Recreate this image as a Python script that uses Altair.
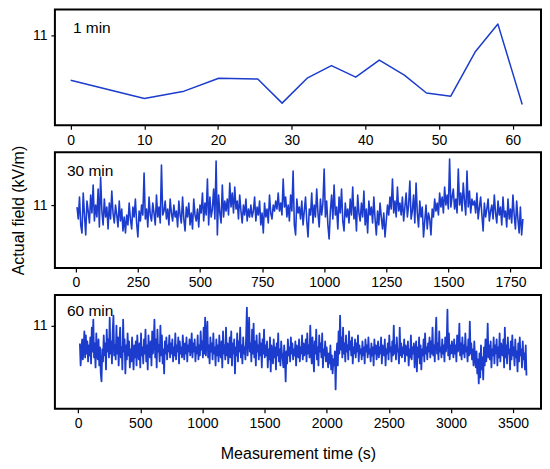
import altair as alt
import pandas as pd

# ---------------- data ----------------
# 1 min record
t1 = [0, 10.0, 15.4, 20.1, 25.4, 28.7, 32.1, 35.4, 38.7, 41.9, 45.3, 48.3, 51.6, 54.9, 58.0, 61.3]
v1 = [10.774, 10.682, 10.719, 10.784, 10.780, 10.659, 10.784, 10.847, 10.789, 10.875,
      10.799, 10.710, 10.694, 10.915, 11.055, 10.652]

# 30 min record (sampled every 5 s, starting at 5 s)
t30_start, t30_step = 5, 5
v30 = [
    10.99, 10.93, 11.04, 10.90, 10.86, 11.06, 10.95, 10.85, 11.02, 10.97, 10.91, 11.05, 10.96, 11.10, 10.92, 11.00, 10.94, 11.08, 10.89, 11.14,
    10.97, 10.90, 11.03, 10.94, 10.99, 10.88, 11.01, 10.93, 11.07, 10.96, 10.91, 11.00, 10.95, 10.89, 11.02, 10.92, 10.98, 10.87, 10.94, 10.86,
    10.95, 10.90, 11.01, 10.93, 10.88, 10.99, 10.94, 11.03, 10.91, 10.84, 10.97, 10.92, 11.00, 10.95, 11.16, 10.93, 10.98, 10.89, 11.04, 10.95,
    10.92, 11.01, 10.96, 10.90, 11.05, 10.94, 10.99, 10.91, 11.20, 10.95, 10.97, 11.02, 10.93, 10.98, 10.90, 11.03, 10.96, 10.92, 11.00, 10.94,
    10.97, 10.89, 11.02, 10.95, 10.91, 11.04, 10.93, 10.87, 10.99, 10.94, 11.01, 10.90, 10.96, 10.88, 11.03, 10.95, 10.92, 10.98, 10.89, 11.00,
    10.96, 11.06, 10.92, 11.01, 10.95, 11.13, 10.90, 11.04, 10.94, 10.98, 11.08, 10.93, 11.22, 10.85, 11.05, 10.96, 10.91, 11.10, 10.94, 11.02,
    10.97, 11.03, 10.95, 11.11, 10.99, 11.06, 10.96, 11.09, 10.98, 11.02, 10.93, 11.05, 10.97, 10.91, 11.00, 10.95, 11.03, 10.92, 10.98, 10.94,
    11.00, 10.94, 10.97, 11.04, 10.92, 10.99, 10.95, 11.02, 10.90, 10.96, 10.86, 11.01, 10.94, 10.98, 10.91, 11.05, 10.96, 10.93, 11.00, 10.97,
    11.02, 10.98, 11.06, 10.97, 11.01, 10.95, 11.13, 10.99, 11.04, 10.94, 11.00, 10.92, 11.05, 10.97, 11.17, 10.90, 10.85, 11.03, 10.96, 10.99,
    10.93, 11.02, 10.90, 10.97, 11.04, 10.92, 10.84, 10.98, 10.95, 11.06, 10.91, 11.00, 10.94, 11.08, 10.96, 10.89, 11.03, 10.95, 11.01, 11.18,
    10.94, 11.02, 10.90, 10.83, 10.97, 11.05, 10.93, 11.10, 10.95, 10.99, 10.88, 11.04, 10.96, 11.08, 10.92, 10.87, 11.01, 10.94, 10.98, 10.91,
    11.03, 10.95, 11.09, 10.93, 10.99, 10.87, 11.05, 10.96, 10.92, 11.01, 10.94, 11.07, 10.90, 10.98, 10.86, 11.02, 10.95, 10.99, 10.91, 11.04,
    10.93, 10.85, 10.97, 10.90, 11.01, 10.94, 10.88, 10.96, 10.84, 10.92, 11.00, 10.95, 11.04, 10.98, 11.13, 10.96, 11.02, 10.94, 11.09, 10.97,
    11.01, 10.95, 11.04, 10.92, 10.99, 11.06, 10.94, 11.00, 11.12, 10.93, 10.97, 11.05, 10.91, 11.11, 10.96, 10.89, 11.02, 10.94, 10.99, 10.84,
    10.92, 11.00, 10.88, 10.96, 10.93, 10.85, 10.98, 10.94, 11.03, 10.97, 11.01, 10.95, 11.06, 10.99, 11.04, 10.96, 11.09, 11.00, 11.05, 10.98,
    11.23, 10.99, 11.04, 11.08, 10.98, 11.03, 10.96, 11.18, 11.00, 11.06, 10.97, 11.11, 11.02, 10.95, 11.17, 10.99, 11.07, 10.96, 11.03, 11.00,
    11.02, 10.96, 11.06, 10.93, 10.99, 11.04, 10.95, 10.87, 11.01, 10.94, 10.98, 11.03, 10.92, 10.97, 11.00, 10.93, 11.05, 10.96, 10.91, 11.02,
    10.95, 10.99, 10.90, 11.04, 10.94, 10.97, 10.89, 11.03, 10.93, 10.98, 10.91, 11.05, 10.95, 10.88, 11.02, 10.93, 10.86, 10.99, 10.85, 10.93,
]

# 60 min record (sampled every 6 s, starting at 14 s)
t60_start, t60_step = 14, 6
v60 = [
    10.91, 10.80, 10.87, 10.93, 10.83, 10.89, 10.97, 10.84, 10.95, 10.86,
    10.92, 10.82, 10.90, 10.85, 10.94, 10.81, 10.99, 10.87, 11.03, 10.84,
    10.91, 10.79, 10.96, 10.86, 10.83, 10.93, 10.80, 10.89, 10.76, 10.72,
    10.88, 10.82, 10.95, 10.85, 10.91, 10.78, 10.98, 10.87, 10.93, 10.84,
    11.04, 10.86, 10.92, 10.81, 10.97, 11.05, 10.85, 10.90, 10.83, 11.00,

    10.86, 10.94, 10.80, 10.91, 10.99, 10.84, 10.89, 10.78, 11.03, 10.87,
    10.93, 10.76, 10.90, 10.83, 10.96, 10.85, 10.92, 10.79, 10.88, 10.82,
    10.94, 10.86, 10.78, 10.90, 10.84, 10.92, 10.80, 10.95, 10.87, 10.83,
    10.91, 10.79, 10.96, 10.85, 10.89, 10.81, 10.93, 10.86, 10.98, 10.82,
    10.90, 10.78, 10.95, 10.87, 10.84, 10.92, 10.80, 10.97, 10.86, 10.91,

    11.03, 10.84, 10.93, 10.79, 10.98, 10.87, 10.90, 10.82, 11.00, 10.85,
    10.95, 10.81, 10.88, 10.76, 10.92, 10.86, 10.94, 10.83, 10.90, 10.87,
    10.95, 10.84, 10.91, 10.86, 10.93, 10.82, 10.89, 10.85, 10.96, 10.83,
    10.90, 10.87, 10.94, 10.81, 10.92, 10.86, 10.89, 10.84, 10.95, 10.88,
    10.83, 10.91, 10.86, 10.94, 10.82, 10.90, 10.87, 10.93, 10.85, 10.89,

    10.96, 10.84, 10.91, 10.87, 10.93, 10.82, 10.89, 10.86, 10.95, 10.83,
    10.90, 10.85, 10.97, 10.88, 10.92, 10.84, 10.99, 10.86, 11.04, 10.85,
    10.93, 11.02, 10.84, 10.90, 10.81, 10.94, 10.87, 10.91, 10.83, 10.96,
    10.86, 10.89, 10.80, 10.93, 10.85, 10.90, 10.82, 10.95, 10.87, 10.84,
    10.92, 10.79, 10.97, 10.86, 10.90, 10.83, 10.99, 10.85, 10.91, 10.81,

    10.88, 10.94, 10.84, 10.97, 10.80, 10.91, 10.86, 10.93, 10.76, 10.89,
    10.85, 10.96, 10.82, 10.92, 10.87, 10.99, 10.84, 10.90, 10.81, 10.94,
    10.86, 10.89, 10.83, 10.95, 11.09, 10.85, 10.93, 11.04, 10.87, 10.91,
    10.82, 10.98, 10.86, 11.01, 10.84, 10.92, 10.80, 10.95, 10.87, 10.90,
    10.83, 10.96, 10.85, 10.91, 10.79, 10.93, 10.86, 10.98, 10.84, 10.90,

    10.85, 10.92, 10.79, 10.88, 10.83, 10.94, 10.77, 10.90, 10.86, 10.81,
    10.93, 10.84, 10.89, 10.78, 10.91, 10.85, 10.96, 10.82, 10.88, 10.80,
    10.92, 10.86, 10.83, 10.79, 10.90, 10.84, 10.72, 10.87, 10.81, 10.93,
    10.85, 10.89, 10.82, 10.94, 10.86, 10.91, 10.83, 10.88, 10.85, 10.92,
    10.80, 10.90, 10.87, 10.84, 10.93, 10.82, 10.89, 10.86, 10.95, 10.83,

    10.91, 10.85, 10.88, 10.93, 10.82, 10.96, 10.86, 10.90, 10.84, 11.00,
    10.87, 10.81, 10.94, 10.85, 10.77, 10.92, 10.86, 10.98, 10.83, 10.89,
    10.80, 10.95, 10.87, 10.91, 10.84, 10.96, 10.79, 10.88, 10.85, 10.92,
    10.82, 10.89, 10.84, 10.79, 10.86, 10.81, 10.90, 10.78, 10.85, 10.76,
    10.83, 10.80, 10.87, 10.68, 10.84, 10.91, 10.80, 10.97, 10.86, 11.05,

    10.88, 10.94, 10.84, 10.99, 10.86, 10.91, 10.82, 10.95, 10.87, 10.90,
    10.83, 10.97, 10.88, 10.92, 10.85, 10.94, 10.81, 10.89, 10.86, 10.93,
    10.84, 10.91, 10.87, 10.95, 10.82, 10.90, 10.86, 10.88, 10.83, 10.92,
    10.85, 10.89, 10.81, 10.93, 10.87, 10.90, 10.84, 10.94, 10.86, 10.88,
    10.82, 10.91, 10.85, 10.89, 10.80, 10.93, 10.86, 10.90, 10.83, 10.88,

    10.92, 10.84, 10.89, 10.86, 10.94, 10.81, 10.90, 10.87, 10.85, 10.93,
    10.80, 10.88, 10.86, 10.91, 10.83, 10.95, 10.87, 10.89, 10.82, 10.92,
    10.85, 11.00, 10.86, 10.90, 10.83, 10.94, 10.87, 10.88, 10.81, 10.99,
    10.85, 10.91, 10.84, 10.89, 10.86, 10.93, 10.82, 10.90, 10.87, 10.85,
    10.92, 10.80, 10.88, 10.84, 10.95, 10.83, 10.89, 10.86, 10.91, 10.79,

    10.87, 10.92, 10.77, 10.89, 10.84, 10.94, 10.81, 10.90, 10.78, 10.88,
    10.85, 10.93, 10.82, 10.96, 10.86, 10.89, 10.83, 10.91, 10.87, 10.94,
    10.84, 10.92, 10.86, 10.99, 10.85, 10.90, 10.82, 10.95, 11.04, 10.86,
    10.91, 10.83, 10.97, 10.87, 10.89, 10.84, 10.93, 10.86, 10.90, 10.82,
    10.94, 10.87, 10.91, 11.08, 10.85, 10.96, 10.83, 10.90, 10.86, 10.92,

    10.88, 10.84, 10.93, 10.86, 10.90, 10.82, 10.95, 10.87, 10.89, 11.01,
    10.85, 10.91, 10.83, 10.94, 10.86, 10.90, 10.84, 10.96, 10.87, 10.89,
    10.82, 10.93, 10.85, 11.02, 10.86, 10.91, 10.83, 10.88, 10.80, 10.92,
    10.84, 10.79, 10.87, 10.76, 10.83, 10.71, 10.86, 10.74, 10.90, 10.78,
    10.84, 10.73, 10.89, 10.80, 10.93, 10.82, 10.87, 11.01, 10.84, 10.90,

    10.83, 10.92, 10.79, 10.88, 10.85, 10.94, 10.81, 10.90, 10.86, 10.93,
    10.80, 10.89, 10.84, 10.96, 10.82, 10.91, 10.87, 10.85, 10.93, 10.79,
    10.99, 10.84, 10.90, 10.81, 10.94, 10.86, 10.88, 10.78, 10.92, 10.83,
    10.95, 10.85, 10.89, 10.80, 10.93, 10.84, 10.87, 10.77, 10.91, 10.82,
    10.94, 10.85, 10.88, 10.79, 10.92, 10.83, 10.86, 10.78, 10.90, 10.75,
]

labels = ["1 min", "30 min", "60 min"]
xticks1 = [0, 10, 20, 30, 40, 50, 60]
xticks30 = [0, 250, 500, 750, 1000, 1250, 1500, 1750]
xticks60 = [0, 500, 1000, 1500, 2000, 2500, 3000, 3500]
yticks = [11]

df1 = pd.DataFrame({"t": t1, "v": v1})
df30 = pd.DataFrame({"t": [t30_start + t30_step * i for i in range(len(v30))], "v": v30})
df60 = pd.DataFrame({"t": [t60_start + t60_step * i for i in range(len(v60))], "v": v60})

LINE = "#1b3ccc"
FONT = "Liberation Sans"
W = 487


def panel(df, xdom, ydom, xticks, label, lx, ly, h, sw, ytitle=None, xtitle=None):
    xaxis = dict(values=xticks, format="d")
    if xtitle:
        xaxis.update(title=xtitle, titlePadding=15)
    yaxis = dict(values=yticks, format="d")
    if ytitle:
        yaxis.update(title=ytitle, titlePadding=6)
    xkw = {} if xtitle else {"title": None}
    ykw = {} if ytitle else {"title": None}
    line = alt.Chart(df).mark_line(color=LINE, strokeWidth=sw, strokeJoin="round").encode(
        x=alt.X("t:Q", scale=alt.Scale(domain=xdom, nice=False, zero=False),
                axis=alt.Axis(**xaxis), **xkw),
        y=alt.Y("v:Q", scale=alt.Scale(domain=ydom, nice=False, zero=False),
                axis=alt.Axis(**yaxis), **ykw),
    )
    txt = alt.Chart(pd.DataFrame({"label": [label]})).mark_text(
        align="left", baseline="middle", font=FONT, fontSize=15.5, color="black"
    ).encode(x=alt.value(lx), y=alt.value(ly), text="label:N")
    return alt.layer(line, txt).properties(width=W, height=h)


p1 = panel(df1, [-2.14, 63.85], [10.5485, 11.1285], xticks1, labels[0], 18, 19, 116, 1.5)
p2 = panel(df30, [-84, 1873], [10.685, 11.265], xticks30, labels[1], 12, 19, 116, 1.6,
           ytitle="Actual field (kV/m)")
p3 = panel(df60, [-187, 3725], [10.5835, 11.1535], xticks60, labels[2], 12, 16, 114, 1.8,
           xtitle="Measurement time (s)")

chart = alt.vconcat(p1, p2, p3, spacing=27, bounds="flush").properties(
    padding={"left": 1, "top": 0, "right": 0, "bottom": 0},
    background="white",
).configure_view(
    stroke="black", strokeWidth=2
).configure_axis(
    domain=False, grid=False, tickColor="black", tickSize=4, tickWidth=1.2,
    labelFont=FONT, labelFontSize=14, labelColor="black", labelPadding=4,
    titleFont=FONT, titleFontSize=16, titleColor="black", titleFontWeight="normal",
)

chart.save("out.html", embed_options={"renderer": "svg", "actions": False})
